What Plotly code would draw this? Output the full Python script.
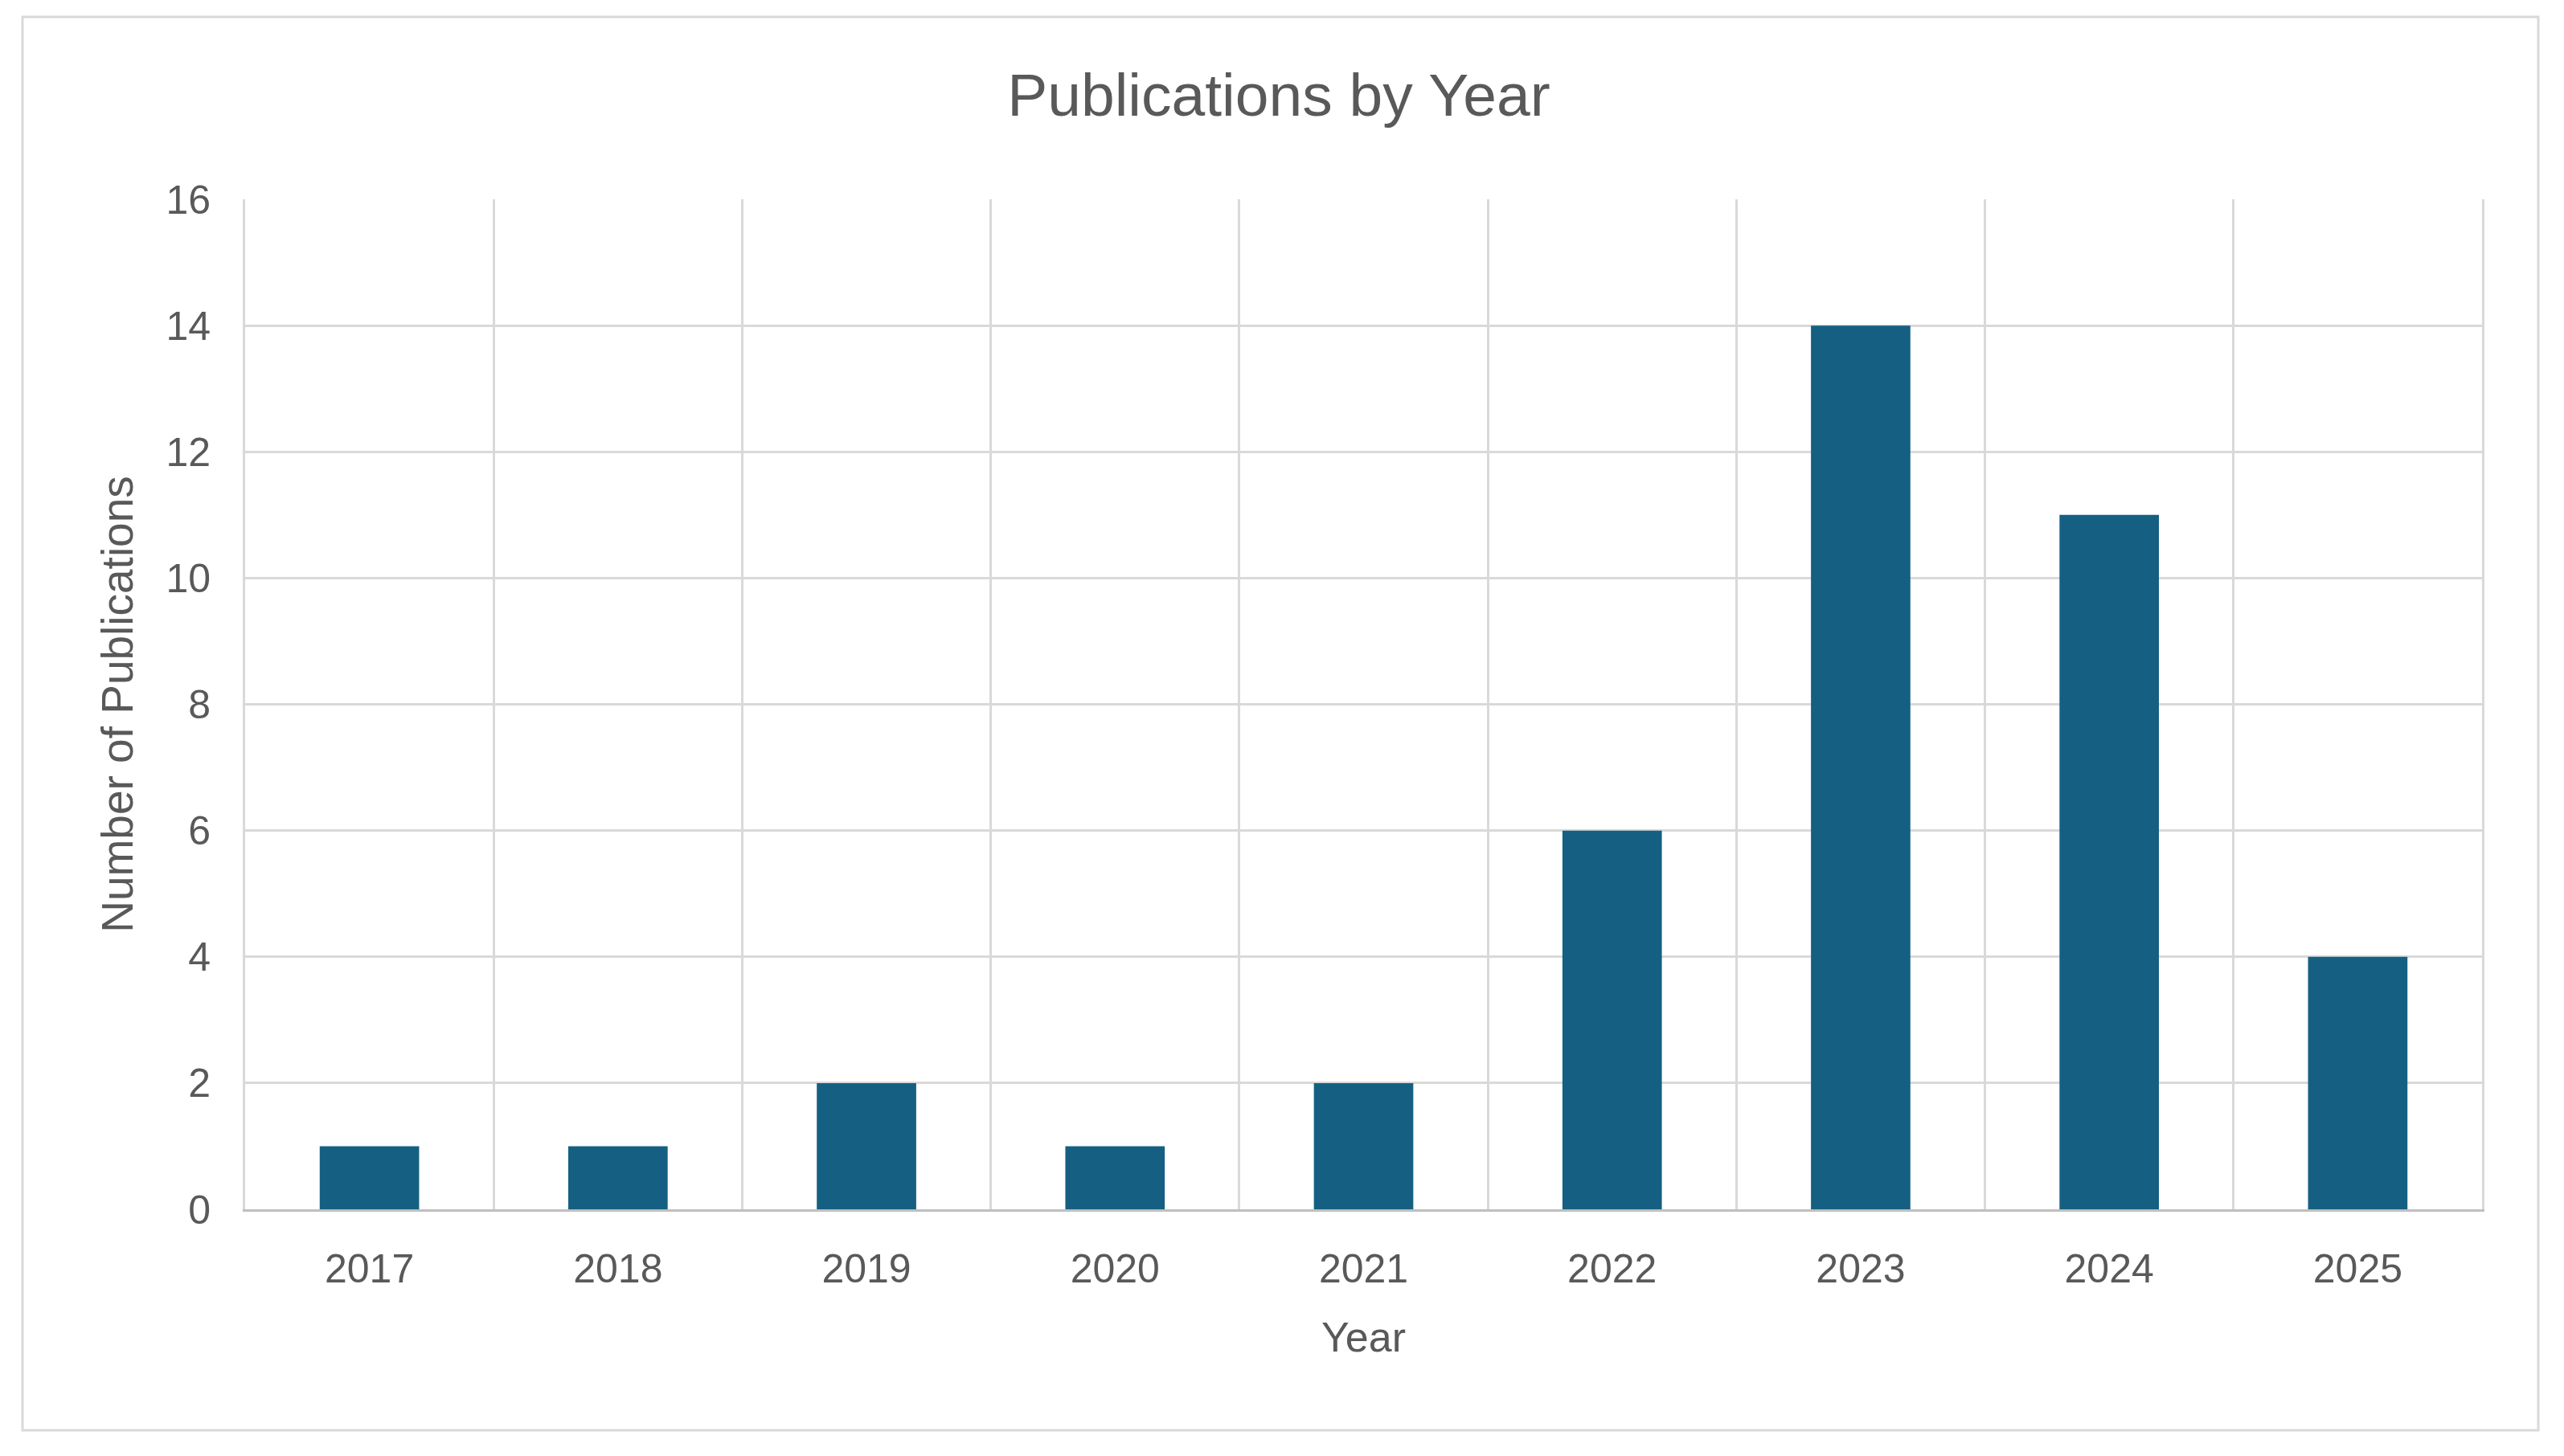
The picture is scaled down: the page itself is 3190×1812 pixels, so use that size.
import plotly.graph_objects as go

years = ["2017", "2018", "2019", "2020", "2021", "2022", "2023", "2024", "2025"]
publications = [1, 1, 2, 1, 2, 6, 14, 11, 4]
y_ticks = [0, 2, 4, 6, 8, 10, 12, 14, 16]

W, H = 3190, 1812
OFF = 8  # page offset of the rendered figure
L, R, T, B = 305 - OFF, 3088 - OFF, 248 - OFF, 1505 - OFF  # plot area in pixels
FONT = "Liberation Sans, Arial, sans-serif"
TXT = "#595959"
GRID = "#d9d9d9"

fig = go.Figure(go.Bar(
    x=years, y=publications,
    marker=dict(color="#156082", line=dict(width=0)),
    width=0.4,
))

pw, ph = R - L, B - T
fig.add_shape(type="rect", xref="paper", yref="paper",
              x0=(28 - OFF - L) / pw, x1=(3158 - OFF - L) / pw,
              y0=(B - (1780 - OFF)) / ph, y1=(B - (21 - OFF)) / ph,
              line=dict(color="#d9d9d9", width=3), layer="below")

fig.update_layout(
    width=W, height=H,
    margin=dict(l=L, r=W - R, t=T, b=H - B),
    paper_bgcolor="white", plot_bgcolor="white",
    showlegend=False,
    font=dict(family=FONT, color=TXT, size=52),
    title=dict(text="Publications by Year", x=(1591 - OFF) / W, xanchor="center",
               y=1 - (118 - OFF) / H, yanchor="middle", yref="container",
               font=dict(size=75, color=TXT, family=FONT)),
    bargap=0.6,
)
fig.update_xaxes(
    type="category", tickson="boundaries", ticks="",
    showgrid=True, gridcolor=GRID, gridwidth=3,
    showline=True, linecolor="#bfbfbf", linewidth=3,
    tickfont=dict(size=50, color=TXT), ticklabelstandoff=28,
    title=dict(text="Year", font=dict(size=52, color=TXT), standoff=40),
)
fig.update_yaxes(
    range=[0, 16], tickvals=y_ticks, ticks="",
    showgrid=True, gridcolor=GRID, gridwidth=3,
    showline=True, linecolor="#d9d9d9", linewidth=3, mirror=True,
    zeroline=False,
    tickfont=dict(size=50, color=TXT), ticklabelstandoff=30,
    title=dict(text="Number of Publications", font=dict(size=55, color=TXT), standoff=24),
)

fig.write_html("out.html")
